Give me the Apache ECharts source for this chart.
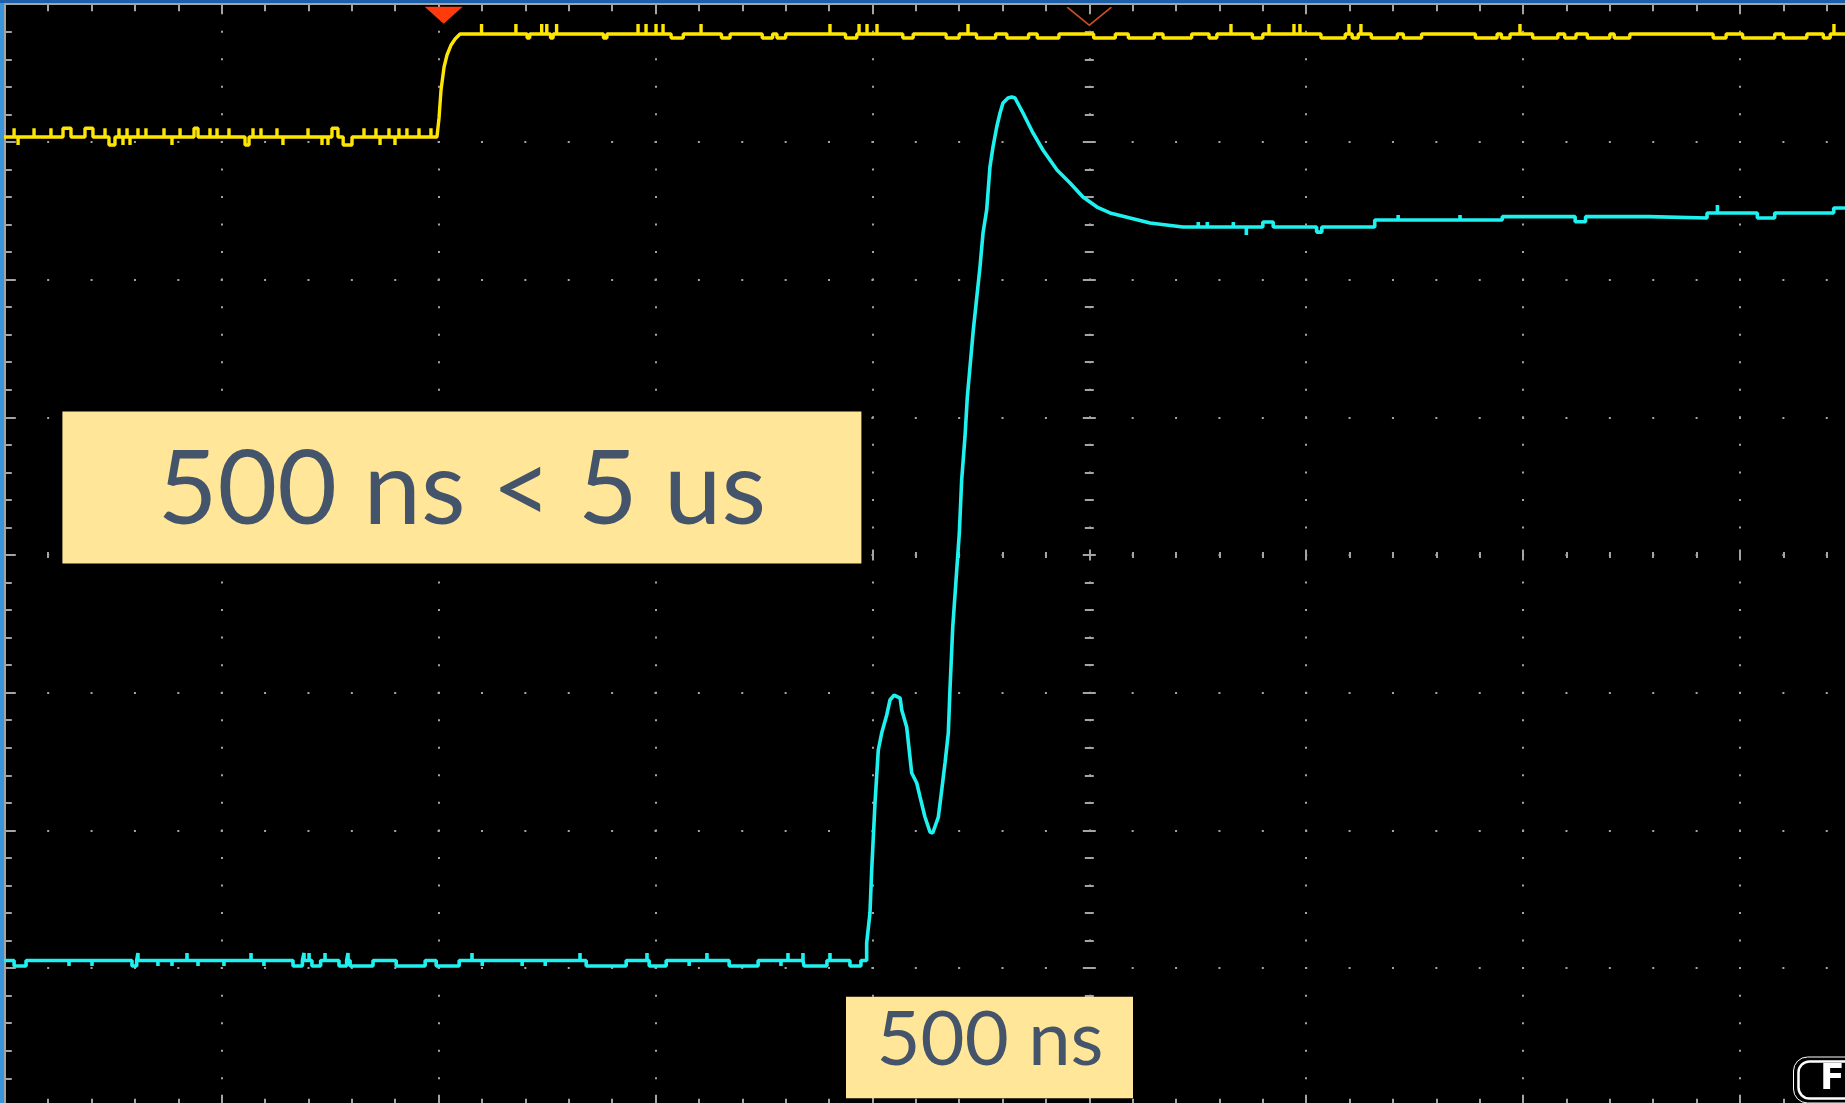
<!DOCTYPE html>
<html>
<head>
<meta charset="utf-8">
<script src="https://cdn.jsdelivr.net/npm/echarts@6/dist/echarts.min.js"></script>
<style>
html,body{margin:0;padding:0;background:#000;overflow:hidden;}
#chart{width:1845px;height:1103px;}
</style>
</head>
<body>
<div id="chart"></div>
<script>
// ---- axes: time in ns (250 ns / div), amplitude in screen divisions ----
const timeMin = -1250, timeMax = 1250, timeStep = 250;
const divMin = -4, divMax = 4, divStep = 1;

// ---- channel 1 (yellow) ----
const ch1Low = 3.036, ch1High = 3.784, ch1End = 900;
const ch1Edge = [[-751.9,3.036],[-749.5,3.174],[-747.2,3.377],[-743.7,3.544],[-740.3,3.631],[-735.6,3.704],[-731.0,3.747],[-725.3,3.784]];
// glitches: [start ns, end ns, level]
const ch1LowGlitches = [
  [-1239.3,-1239.3,3.099],[-1234.7,-1234.7,2.977],[-1216.3,-1216.3,3.099],[-1196.8,-1196.8,3.099],
  [-1182.9,-1173.7,3.099],[-1157.6,-1148.4,3.099],[-1134.5,-1134.5,3.099],[-1129.9,-1123.0,2.977],
  [-1118.4,-1118.4,3.099],[-1113.8,-1113.8,2.977],[-1109.1,-1109.1,3.099],[-1105.7,-1105.7,2.977],
  [-1096.5,-1096.5,3.099],[-1087.3,-1087.3,3.099],[-1066.5,-1066.5,3.099],[-1057.3,-1057.3,2.977],
  [-1048.0,-1048.0,3.099],[-1031.9,-1027.3,3.099],[-1013.5,-1013.5,3.099],[-1005.4,-1005.4,3.099],
  [-991.6,-991.6,3.099],[-973.1,-968.5,2.977],[-963.9,-963.9,3.099],[-954.7,-954.7,3.099],
  [-936.3,-936.3,3.099],[-929.4,-929.4,2.977],[-900.5,-900.5,3.099],[-884.4,-884.4,2.977],
  [-877.5,-877.5,2.977],[-872.9,-866.0,3.099],[-860.0,-849.8,2.977],[-836.0,-836.0,3.099],
  [-822.2,-822.2,3.099],[-817.5,-817.5,2.977],[-807.2,-807.2,3.099],[-800.3,-800.3,2.977],
  [-795.7,-795.7,3.099],[-786.5,-786.5,3.099],[-772.6,-772.6,3.099],[-758.8,-758.8,3.099]
];
const ch1HighGlitches = [
  [-700.5,-700.5,3.856],[-660.9,-660.9,3.856],[-648.0,-645.0,3.755],[-631.2,-631.2,3.856],[-625.3,-625.3,3.856],
  [-621.0,-618.0,3.755],[-614.0,-614.0,3.856],[-560.0,-556.0,3.755],[-520.1,-520.1,3.856],[-510.9,-510.9,3.856],
  [-499.4,-499.4,3.856],[-491.3,-491.3,3.856],[-482.0,-468.0,3.755],[-447.5,-447.5,3.856],[-424.0,-414.0,3.755],
  [-377.0,-365.0,3.755],[-360.0,-350.0,3.755],[-298.9,-298.9,3.856],[-281.0,-268.0,3.755],[-265.4,-265.4,3.856],
  [-256.2,-256.2,3.856],[-244.7,-244.7,3.856],[-215.0,-203.0,3.755],[-165.0,-150.0,3.755],[-139.8,-139.8,3.856],
  [-130.0,-108.0,3.755],[-95.0,-70.0,3.755],[-60.0,-35.0,3.755],[5.0,30.0,3.755],[45.0,75.0,3.755],
  [85.0,118.0,3.755],[138.0,147.0,3.755],[163.3,163.3,3.856],[188.0,200.0,3.755],[207.1,207.1,3.856],
  [235.9,235.9,3.856],[242.8,242.8,3.856],[267.0,295.0,3.755],[299.3,299.3,3.856],[303.0,310.0,3.755],
  [313.1,313.1,3.856],[325.0,355.0,3.755],[362.0,383.0,3.755],[445.0,470.0,3.755],[475.0,485.0,3.755],
  [496.4,496.4,3.856],[511.0,540.0,3.755],[548.0,561.0,3.755],[574.0,600.0,3.755],[605.0,623.0,3.755],
  [719.0,734.0,3.755],[753.0,790.0,3.755],[800.0,827.0,3.755],[846.0,854.0,3.755],[858.3,858.3,3.856]
];

// ---- channel 2 (cyan) ----
const ch2Low = -2.945;
const ch2LowGlitches = [
  [-1239.3,-1225.5,-2.985],[-1176.0,-1176.0,-2.985],[-1149.5,-1149.5,-2.985],[-1103.4,-1098.0,-2.985],
  [-1096.5,-1096.5,-2.890],[-1073.5,-1073.5,-2.985],[-1057.3,-1057.3,-2.985],[-1040.0,-1040.0,-2.890],
  [-1027.3,-1027.3,-2.985],[-997.4,-997.4,-2.985],[-966.2,-966.2,-2.890],[-951.3,-951.3,-2.985],
  [-917.8,-907.0,-2.985],[-905.1,-905.1,-2.890],[-899.3,-899.3,-2.890],[-896.0,-886.0,-2.985],
  [-880.9,-880.9,-2.890],[-864.8,-856.0,-2.985],[-854.4,-854.4,-2.890],[-852.0,-825.6,-2.985],
  [-798.9,-765.5,-2.985],[-752.8,-726.3,-2.985],[-711.5,-711.5,-2.890],[-699.7,-699.7,-2.985],
  [-653.7,-653.7,-2.985],[-627.1,-627.1,-2.985],[-587.0,-587.0,-2.890],[-579.9,-533.8,-2.985],
  [-509.8,-509.8,-2.890],[-507.3,-487.7,-2.985],[-461.2,-461.2,-2.985],[-440.7,-440.7,-2.890],
  [-415.1,-381.7,-2.985],[-355.4,-355.4,-2.985],[-347.3,-347.3,-2.890],[-330.0,-330.0,-2.890],
  [-328.9,-302.4,-2.985],[-298.9,-298.9,-2.890],[-275.9,-263.2,-2.985]
];
const ch2Edge = [[-256.6,-2.945],[-256.6,-2.818],[-252.8,-2.600],[-250.8,-2.287],[-247.0,-1.801],[-243.2,-1.416],
  [-239.3,-1.293],[-233.5,-1.162],[-229.7,-1.053],[-225.0,-1.017],[-218.0,-1.040],[-216.2,-1.126],[-210.5,-1.249],
  [-204.7,-1.583],[-198.9,-1.656],[-195.1,-1.757],[-189.4,-1.903],[-183.6,-2.012],[-180.5,-2.019],[-174.0,-1.903],
  [-170.1,-1.707],[-166.3,-1.511],[-162.5,-1.293],[-160.6,-0.980],[-157.4,-0.523],[-153.6,-0.182],[-149.8,0.160],
  [-147.1,0.545],[-143.3,0.857],[-140.6,1.147],[-133.7,1.634],[-126.0,2.091],[-122.5,2.338],[-118.3,2.505],
  [-114.5,2.818],[-111.0,2.963],[-106.7,3.108],[-102.9,3.210],[-99.5,3.282],[-93.7,3.319],[-89.4,3.326],
  [-85.6,3.319],[-76.4,3.210],[-64.9,3.065],[-53.4,2.941],[-37.2,2.796],[-22.2,2.702],[-7.3,2.600],
  [8.9,2.527],[23.9,2.484],[47.0,2.447],[70.0,2.411],[108.0,2.382]];
const ch2Tail = [[125.6,2.382],[125.6,2.418],[125.6,2.382],[136.0,2.382],[136.0,2.418],[136.0,2.382],
  [166.0,2.382],[166.0,2.418],[166.0,2.382],[181.0,2.382],[181.0,2.324],[181.0,2.382],[200.0,2.382],[200.0,2.418],
  [212.0,2.418],[212.0,2.382],[262.0,2.382],[262.0,2.345],[268.0,2.345],[268.0,2.382],[329.0,2.382],[329.0,2.433],
  [356.0,2.433],[356.0,2.470],[356.0,2.433],[427.3,2.433],[427.3,2.470],[427.3,2.433],[476.0,2.433],[476.0,2.457],
  [560.0,2.457],[560.0,2.420],[572.0,2.420],[572.0,2.457],[645.0,2.457],[645.0,2.447],[712.0,2.447],[712.0,2.484],
  [724.0,2.484],[724.0,2.542],[724.0,2.484],[770.0,2.484],[770.0,2.447],[790.0,2.447],[790.0,2.484],[858.0,2.484],
  [858.0,2.520],[880.0,2.520]];

// ---- markers & annotations ----
const triggerMarkerNs = -744.2;
const expansionMarkerNs = 0;
const labelMain = '500 ns < 5 us';
const labelDelay = '500 ns';

// ---- build series data from the named arrays ----
function flatWithGlitches(t0, t1, level, glitches) {
  const pts = [[t0, level]];
  glitches.slice().sort((a, b) => a[0] - b[0]).forEach(g => {
    pts.push([g[0], level], [g[0], g[2]], [g[1], g[2]], [g[1], level]);
  });
  pts.push([t1, level]);
  return pts;
}
const ch1Data = flatWithGlitches(timeMin - 10, ch1Edge[0][0], ch1Low, ch1LowGlitches)
  .concat(ch1Edge)
  .concat(flatWithGlitches(ch1Edge[ch1Edge.length - 1][0], ch1End, ch1High, ch1HighGlitches));
const ch2Data = flatWithGlitches(timeMin - 10, ch2Edge[0][0], ch2Low, ch2LowGlitches)
  .concat(ch2Edge).concat(ch2Tail);

const GRID = '#a4a4a4';
const chart = echarts.init(document.getElementById('chart'), null, {renderer: 'canvas'});

const divPx = 216.9, vDivPx = 137.7;
function frameX(pos, onZero, inside, major, minor, extra) {
  return Object.assign({
    type: 'value', min: timeMin, max: timeMax, interval: timeStep, position: pos,
    axisLine: {show: !onZero, onZero: onZero, onZeroAxisIndex: 0, lineStyle: {color: GRID, width: 2}},
    axisTick: {show: true, inside: inside, length: major, lineStyle: {color: GRID, width: 2}},
    minorTick: {show: true, splitNumber: 5, length: minor, lineStyle: {color: GRID, width: 2}},
    axisLabel: {show: false}, splitLine: {show: false}
  }, extra || {});
}
function frameY(pos, onZero, inside, major, minor, extra) {
  return Object.assign({
    type: 'value', min: divMin, max: divMax, interval: divStep, position: pos,
    axisLine: {show: !onZero, onZero: onZero, onZeroAxisIndex: 0, lineStyle: {color: GRID, width: 2}},
    axisTick: {show: true, inside: inside, length: major, lineStyle: {color: GRID, width: 2}},
    minorTick: {show: true, splitNumber: 5, length: minor, lineStyle: {color: GRID, width: 2}},
    axisLabel: {show: false}, splitLine: {show: false}
  }, extra || {});
}

const option = {
  animation: false,
  backgroundColor: '#000000',
  grid: {left: 4.8, top: 4.2, width: 10 * divPx, height: 8 * vDivPx, containLabel: false, outerBoundsMode: 'none'},
  xAxis: [
    frameX('top', false, true, 10, 7, {splitLine: {show: true, lineStyle: {color: GRID, width: 2, type: [2, vDivPx / 5 - 2], dashOffset: 1}}}),
    frameX('bottom', false, true, 11, 7),
    frameX('bottom', true, true, 5.5, 3),
    frameX('bottom', true, false, 5.5, 3)
  ],
  yAxis: [
    frameY('left', false, true, 11, 7, {splitLine: {show: true, lineStyle: {color: GRID, width: 2, type: [2, divPx / 5 - 2], dashOffset: 1}}}),
    frameY('left', true, true, 6.5, 4.5),
    frameY('left', true, false, 6.5, 4.5)
  ],
  series: [
    {
      name: 'CH1', type: 'line', xAxisIndex: 0, yAxisIndex: 0, data: ch1Data,
      showSymbol: false, symbol: 'none', smooth: false, z: 5,
      lineStyle: {color: '#ffe600', width: 3.4},
      markPoint: {
        silent: true, animation: false, label: {show: false},
        data: [
          {coord: [triggerMarkerNs, divMax], symbol: 'triangle', symbolRotate: 180, symbolSize: [38, 17], symbolOffset: [0, 11],
           itemStyle: {color: '#ff3a0c'}},
          {coord: [expansionMarkerNs, divMax], symbol: 'path://M0,0L22,18L44,0', symbolSize: [44, 18], symbolOffset: [0, 12],
           itemStyle: {color: 'none', borderColor: '#c8501e', borderWidth: 1.5}}
        ]
      }
    },
    {
      name: 'CH2', type: 'line', xAxisIndex: 0, yAxisIndex: 0, data: ch2Data,
      showSymbol: false, symbol: 'none', smooth: false, z: 6,
      lineStyle: {color: '#1ef2f0', width: 3.6}
    }
  ],
  graphic: [
    {type: 'rect', z: 50, shape: {x: 0, y: 0, width: 4, height: 1103}, style: {fill: '#3b95da'}},
    {type: 'rect', z: 50, shape: {x: 0, y: 0, width: 1845, height: 3}, style: {fill: '#1d5fa8'}},
    {type: 'rect', z: 100, shape: {x: 62.4, y: 411.5, width: 799, height: 152}, style: {fill: '#ffe699'}},
    {type: 'text', z: 101, x: 462, y: 491, style: {text: labelMain, fontSize: 103, fontFamily: 'Lato', fill: '#44546a', align: 'center', verticalAlign: 'middle'}},
    {type: 'rect', z: 100, shape: {x: 846, y: 996.7, width: 287, height: 101.5}, style: {fill: '#ffe699'}},
    {type: 'text', z: 101, x: 990, y: 1040, style: {text: labelDelay, fontSize: 76, fontFamily: 'Lato', fill: '#44546a', align: 'center', verticalAlign: 'middle'}},
    {type: 'rect', z: 100, shape: {x: 1793.5, y: 1057, width: 90, height: 46, r: 14}, style: {fill: '#000', stroke: '#ffffff', lineWidth: 1}},
    {type: 'rect', z: 101, shape: {x: 1798.5, y: 1061.5, width: 80, height: 37, r: 11}, style: {fill: 'none', stroke: '#ffffff', lineWidth: 2.5}},
    {type: 'text', z: 102, x: 1820, y: 1080, style: {text: 'F', fontSize: 36, fontWeight: 'bold', fontFamily: 'DejaVu Sans', fill: '#ffffff', align: 'left', verticalAlign: 'middle'}}
  ]
};
chart.setOption(option);
</script>
</body>
</html>
